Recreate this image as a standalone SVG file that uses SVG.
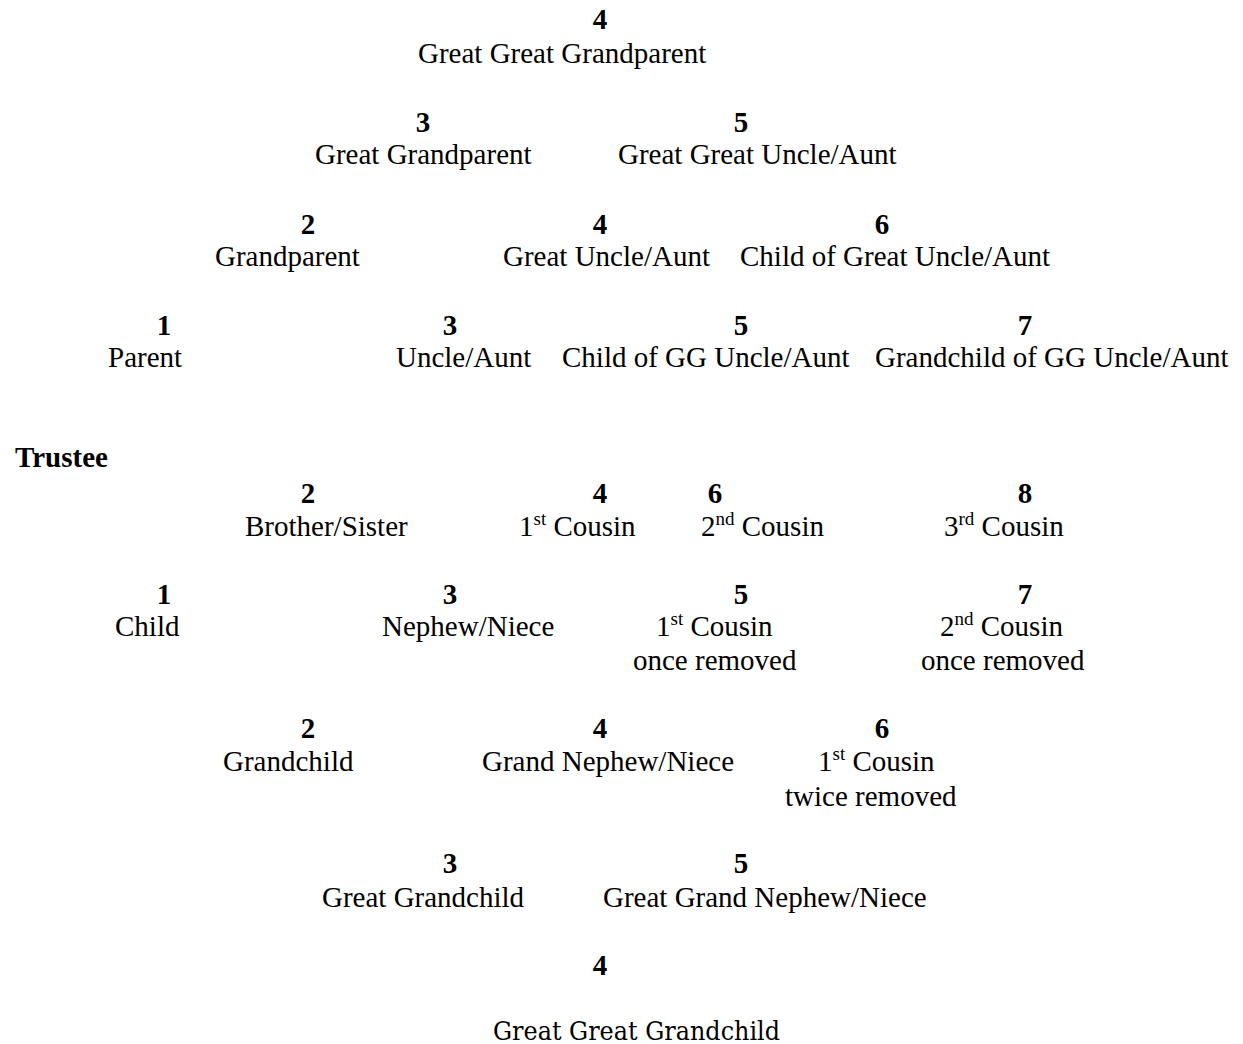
<svg xmlns="http://www.w3.org/2000/svg" width="1243" height="1044" viewBox="0 0 1243 1044">
<style>
text{font-family:"Liberation Serif","Times New Roman",serif;font-size:29px;fill:#000}
.n{font-weight:bold;text-anchor:middle}
.c{font-family:"DejaVu Serif","Liberation Serif",serif;font-size:26px}
.s{font-size:19px}
</style>
<rect width="1243" height="1044" fill="#fff"/>
<g id="gen4-ggp"><text class="n" x="600" y="29">4</text><text x="418" y="63">Great Great Grandparent</text></g>
<g id="gen3-gp"><text class="n" x="423" y="132">3</text><text x="315" y="164">Great Grandparent</text></g>
<g id="gen5-ggua"><text class="n" x="741" y="132">5</text><text x="618" y="164">Great Great Uncle/Aunt</text></g>
<g id="gen2-gp"><text class="n" x="308" y="234">2</text><text x="215" y="266">Grandparent</text></g>
<g id="gen4-gua"><text class="n" x="600" y="234">4</text><text x="503" y="266">Great Uncle/Aunt</text></g>
<g id="gen6-cgua"><text class="n" x="882" y="234">6</text><text x="740" y="266">Child of Great Uncle/Aunt</text></g>
<g id="gen1-parent"><text class="n" x="164" y="335">1</text><text x="108" y="367">Parent</text></g>
<g id="gen3-ua"><text class="n" x="450" y="335">3</text><text x="396" y="367">Uncle/Aunt</text></g>
<g id="gen5-cggua"><text class="n" x="741" y="335">5</text><text x="562" y="367">Child of GG Uncle/Aunt</text></g>
<g id="gen7-gcggua"><text class="n" x="1025" y="335">7</text><text x="875" y="367">Grandchild of GG Uncle/Aunt</text></g>
<g id="trustee"><text x="15" y="467" font-weight="bold">Trustee</text></g>
<g id="gen2-sib"><text class="n" x="308" y="503">2</text><text x="245" y="536">Brother/Sister</text></g>
<g id="gen4-c1"><text class="n" x="600" y="503">4</text><text x="519" y="536">1<tspan class="s" dy="-11">st</tspan><tspan dy="11"> Cousin</tspan></text></g>
<g id="gen6-c2"><text class="n" x="715" y="503">6</text><text x="701" y="536">2<tspan class="s" dy="-11">nd</tspan><tspan dy="11"> Cousin</tspan></text></g>
<g id="gen8-c3"><text class="n" x="1025" y="503">8</text><text x="944" y="536">3<tspan class="s" dy="-11">rd</tspan><tspan dy="11"> Cousin</tspan></text></g>
<g id="gen1-child"><text class="n" x="164" y="604">1</text><text x="115" y="636">Child</text></g>
<g id="gen3-nn"><text class="n" x="450" y="604">3</text><text x="382" y="636">Nephew/Niece</text></g>
<g id="gen5-c1r1"><text class="n" x="741" y="604">5</text><text x="656" y="636">1<tspan class="s" dy="-11">st</tspan><tspan dy="11"> Cousin</tspan></text><text x="633" y="670">once removed</text></g>
<g id="gen7-c2r1"><text class="n" x="1025" y="604">7</text><text x="940" y="636">2<tspan class="s" dy="-11">nd</tspan><tspan dy="11"> Cousin</tspan></text><text x="921" y="670">once removed</text></g>
<g id="gen2-gc"><text class="n" x="308" y="738">2</text><text x="223" y="771">Grandchild</text></g>
<g id="gen4-gnn"><text class="n" x="600" y="738">4</text><text x="482" y="771">Grand Nephew/Niece</text></g>
<g id="gen6-c1r2"><text class="n" x="882" y="738">6</text><text x="818" y="771">1<tspan class="s" dy="-11">st</tspan><tspan dy="11"> Cousin</tspan></text><text x="785" y="806">twice removed</text></g>
<g id="gen3-ggc"><text class="n" x="450" y="873">3</text><text x="322" y="907">Great Grandchild</text></g>
<g id="gen5-ggnn"><text class="n" x="741" y="873">5</text><text x="603" y="907">Great Grand Nephew/Niece</text></g>
<g id="gen4-gggc"><text class="n" x="600" y="975">4</text><text class="c" x="493" y="1040" textLength="287" lengthAdjust="spacingAndGlyphs">Great Great Grandchild</text></g>
<g id="connectors"></g>
</svg>
